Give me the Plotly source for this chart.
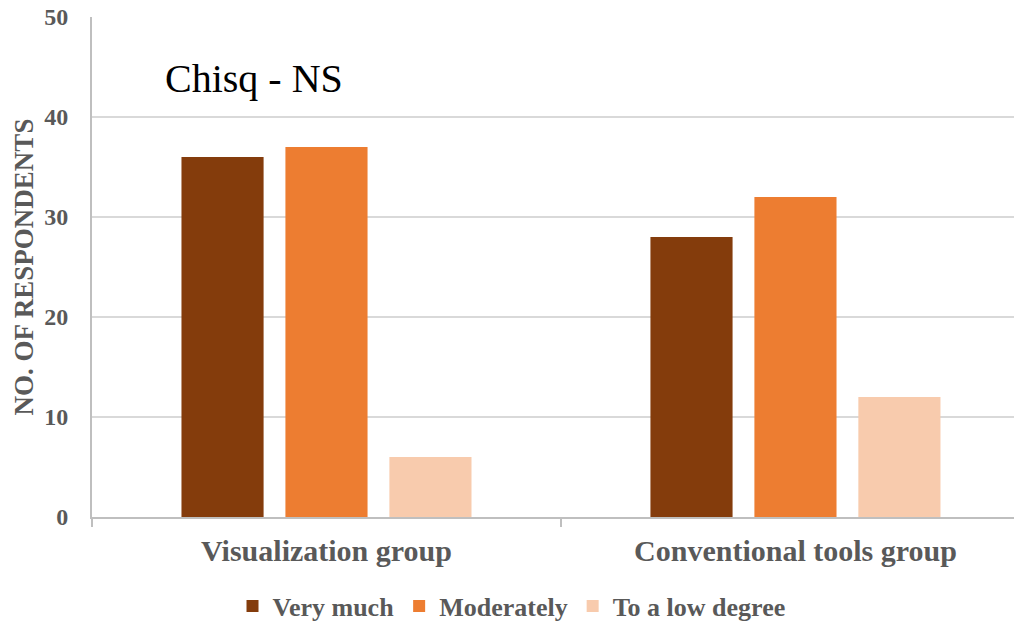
import plotly.graph_objects as go

# Survey responses by group
groups = ["Visualization group", "Conventional tools group"]
very_much = [36, 28]
moderately = [37, 32]
low_degree = [6, 12]
series_names = ["Very much", "Moderately", "To a low degree"]
series_colors = ["#843C0C", "#ED7D31", "#F8CBAD"]
y_ticks = [0, 10, 20, 30, 40, 50]

serif = "Liberation Serif, Times New Roman, serif"
grey = "#595959"

fig = go.Figure()
for name, vals, col in zip(series_names, [very_much, moderately, low_degree], series_colors):
    fig.add_trace(go.Bar(x=groups, y=vals, name=name, marker=dict(color=col, line=dict(width=0))))

fig.update_layout(
    width=1014, height=623,
    margin=dict(l=92, r=0, t=17, b=106, autoexpand=False),
    paper_bgcolor="white", plot_bgcolor="white",
    barmode="group", bargap=0.335, bargroupgap=0.21,
    font=dict(family=serif, color=grey),
    legend=dict(orientation="h", x=0.455, xanchor="center", y=-0.178, yanchor="middle",
                font=dict(family=serif, size=26, color=grey, weight="bold"),
                itemwidth=30, traceorder="normal"),
    annotations=[dict(text="Chisq - NS", x=0.176, y=0.878, xref="paper", yref="paper",
                      xanchor="center", yanchor="middle",
                      showarrow=False, font=dict(family=serif, size=40, color="black"))],
)
fig.update_xaxes(
    range=[-0.5, 1.466], showgrid=False, showline=True, linecolor="#BFBFBF", linewidth=2,
    ticks="outside", tickson="boundaries", ticklen=8, tickcolor="#BFBFBF", tickwidth=2,
    ticklabelstandoff=6, automargin=False,
    tickfont=dict(family=serif, size=30, color=grey, weight="bold"),
)
fig.update_yaxes(
    range=[0, 50], tickvals=y_ticks, showgrid=True, gridcolor="#D9D9D9", gridwidth=2,
    showline=True, linecolor="#BFBFBF", linewidth=2, zeroline=False,
    ticks="", ticklabelstandoff=17, automargin=False,
    tickfont=dict(family=serif, size=24, color=grey, weight="bold"),
    title=dict(text="NO. OF RESPONDENTS", standoff=3,
               font=dict(family=serif, size=27, color=grey, weight="bold")),
)

fig.write_html("out.html")
